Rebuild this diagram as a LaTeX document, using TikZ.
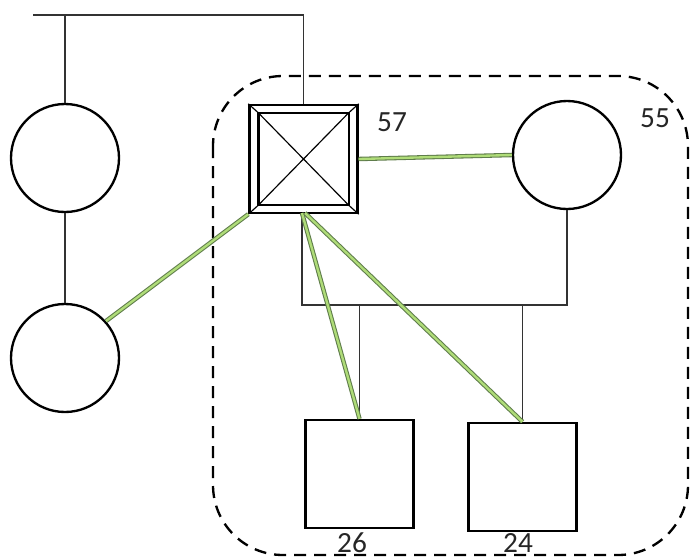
\documentclass[tikz,border=0pt]{standalone}
\usepackage{fontspec}
\setmainfont{Carlito}
\usetikzlibrary{calc}

\definecolor{linkedge}{RGB}{95,125,75}
\definecolor{linkfill}{RGB}{175,220,120}

\begin{document}
\begin{tikzpicture}[x=0.3mm, y=-0.3mm,
    wire/.style={line width=1.5pt, black!80},
    person/.style={draw, line width=2pt, circle, minimum size=32.4mm, inner sep=0pt},
    male/.style={draw, line width=2pt, rectangle, minimum size=32.4mm, inner sep=0pt},
    link/.style={draw=linkedge, double=linkfill, double distance=2pt, line width=0.9pt},
    lbl/.style={font=\fontsize{25}{28}\selectfont, text=black!85, inner sep=0.5pt}]
    \useasboundingbox (0,0) rectangle (692,559);
    % household boundary
    \draw[line width=2pt, dash pattern=on 3.6mm off 2.4mm, rounded corners=21mm]
        (213,76) rectangle (688,555);
    % individuals
    \node[person] (c1) at (65,158) {};
    \node[person] (c2) at (65,358) {};
    \node[male] (sq) at (303.5,159) {};
    \node[person] (c55) at (567,155) {};
    \node[male] (b26) at (359.5,474) {};
    \node[male] (b24) at (522.5,477) {};
    % index person: bevelled frame and cross
    \draw[line width=2pt] ($(sq.north west)+(10,9)$) rectangle ($(sq.south east)+(-10,-9)$);
    \draw[line width=1pt] (sq.north west) -- ($(sq.north west)+(10,9)$)
        (sq.north east) -- ($(sq.north east)+(-10,9)$)
        (sq.south west) -- ($(sq.south west)+(10,-9)$)
        (sq.south east) -- ($(sq.south east)+(-10,-9)$);
    \draw[line width=1pt] ($(sq.north west)+(10,9)$) -- ($(sq.south east)+(-10,-9)$)
        ($(sq.north east)+(-10,9)$) -- ($(sq.south west)+(10,-9)$);
    \node[lbl] (l57) at (392,122) {57};
    \node[lbl] (l55) at (655,118) {55};
    \node[lbl] (l26) at (352,543) {26};
    \node[lbl] (l24) at (518,543) {24};
    % family lines
    \coordinate (topleft) at (33,15);
    \coordinate (sqfoot) at (302,213);
    \coordinate (bar) at (302,305);
    \draw[wire] (topleft) -| (sq.north);
    \draw[wire] (c1.north) -- (c1.north |- topleft);
    \draw[wire] (c1.south) -- (c2.north);
    \draw[wire] (sqfoot) -- (bar) -| (c55.south);
    \draw[wire] (b26.north) -- (b26.north |- bar);
    \draw[wire] (b24.north) -- (b24.north |- bar);
    % emotional ties
    \draw[link] (sq.east) -- (c55.west);
    \draw[link] (c2.42) -- (sq.south west);
    \draw[link] (sqfoot) -- (b26.north);
    \draw[link] ($(sqfoot)+(3,0)$) -- (b24.north);
\end{tikzpicture}
\end{document}
